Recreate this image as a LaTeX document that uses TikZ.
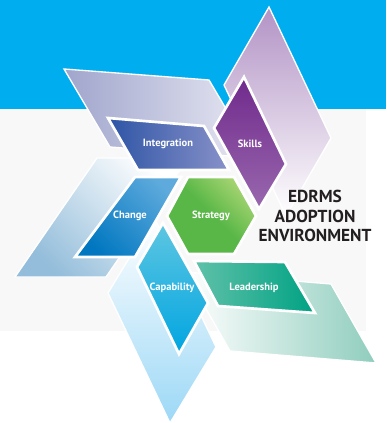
\documentclass[tikz,border=0pt]{standalone}
\usepackage{fontspec}
\setmainfont{PT Sans}
\usetikzlibrary{calc, positioning}
\definecolor{band}{RGB}{0,174,239}
\definecolor{paper}{RGB}{248,248,248}
\definecolor{title}{RGB}{35,31,32}
\definecolor{skillsA}{RGB}{178,147,197}
\definecolor{skillsB}{RGB}{112,42,140}
\definecolor{skillsC}{RGB}{153,104,174}
\definecolor{integA}{RGB}{160,165,204}
\definecolor{integB}{RGB}{232,232,243}
\definecolor{integC}{RGB}{46,85,165}
\definecolor{integD}{RGB}{136,145,201}
\definecolor{changeA}{RGB}{147,189,218}
\definecolor{changeB}{RGB}{0,119,192}
\definecolor{changeC}{RGB}{94,170,220}
\definecolor{stratA}{RGB}{88,183,70}
\definecolor{stratB}{RGB}{166,212,114}
\definecolor{capaA}{RGB}{156,216,246}
\definecolor{capaB}{RGB}{94,198,225}
\definecolor{capaC}{RGB}{0,165,225}
\definecolor{leadA}{RGB}{143,205,189}
\definecolor{leadB}{RGB}{96,193,169}
\definecolor{leadC}{RGB}{0,162,131}

\begin{document}
\begin{tikzpicture}
    [
        x=0.75pt, y=-0.75pt,
        big/.style={draw=white, line width=1pt, line join=miter},
        small/.style={draw=white, line width=2pt, line join=miter},
        label/.style={text=white, font=\bfseries\fontsize{7.9}{8.5}\selectfont, inner sep=0pt}
    ]
    \tikzstyle{heading} = [text=title, font=\bfseries\fontsize{13}{14.6}\selectfont, align=center, inner sep=0pt]

    % Background
    \useasboundingbox (0,0) rectangle (386,423);
    \fill[white] (0,0) rectangle (386,423);
    \fill[paper] (0,109) rectangle (366,331);
    \fill[band] (0,0) rectangle (386,109);

    % Large faded shapes
    \begin{scope}
        \shade[big, top color=skillsA, bottom color=white] (269,7) -- (331,138) -- (286,216) -- (224,85) -- cycle;
        \shade[big, left color=integA, right color=integB] (64,69) -- (209,80) -- (255,158) -- (110,147) -- cycle;
        \shade[big, top color=white, bottom color=changeA, shading angle=-45] (97,158) -- (188,158) -- (106,277) -- (15,277) -- cycle;
        \shade[big, top color=white, bottom color=capaA] (154,217) -- (216,347) -- (170,423) -- (108,293) -- cycle;
        \shade[big, left color=white, right color=leadA] (185,272) -- (331,284) -- (376,363) -- (230,351) -- cycle;
    \end{scope}

    % Small coloured shapes
    \begin{scope}
        \shade[small, top color=skillsB, bottom color=skillsC] (244,77) -- (286,164) -- (259,209) -- (214,128) -- cycle;
        \shade[small, left color=integC, right color=integD] (108,118) -- (204,126) -- (229,170) -- (138,170) -- cycle;
        \shade[small, top color=changeC, bottom color=changeB, shading angle=-45] (135,177) -- (181,177) -- (135,257) -- (75,257) -- cycle;
        \shade[small, top color=stratB, bottom color=stratA, middle color=stratA, shading angle=-45] (167,216) -- (188,177) -- (234,177) -- (256,216) -- (234,254) -- (188,254) -- cycle;
        \shade[small, top color=capaB, bottom color=capaC] (163,223) -- (208,303) -- (179,354) -- (137,267) -- cycle;
        \shade[small, left color=leadB, right color=leadC] (194,261) -- (285,262) -- (315,313) -- (218,306) -- cycle;
    \end{scope}

    % Labels
    \node[label] (integration) at (168,144) {Integration};
    \node[label] (skills) at (250,144) {Skills};
    \node[label] (change) at (130,216) {Change};
    \node[label] (strategy) at (211,216) {Strategy};
    \node[label] (capability) at (172,288) {Capability};
    \node[label] (leadership) at (254,288) {Leadership};

    \node[heading] (edrms) at (315,216) {EDRMS\\ADOPTION\\ENVIRONMENT};

\end{tikzpicture}
\end{document}
